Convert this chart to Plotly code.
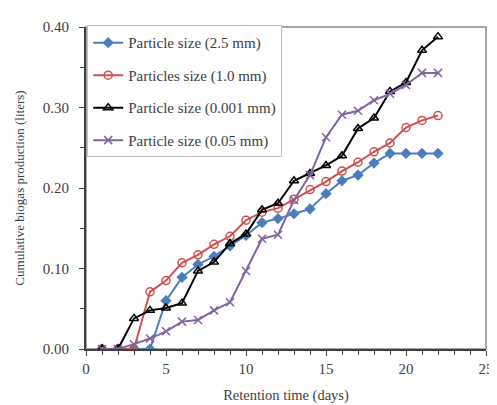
import plotly.graph_objects as go

days = list(range(1, 23))
size_2_5 = [0, 0, 0, 0, 0.060, 0.089, 0.105, 0.115, 0.128, 0.141, 0.157, 0.162, 0.168, 0.174,
            0.193, 0.209, 0.216, 0.231, 0.243, 0.243, 0.243, 0.243]
size_1_0 = [0, 0, 0, 0.071, 0.085, 0.107, 0.117, 0.130, 0.140, 0.160, 0.170, 0.175, 0.186, 0.198,
            0.208, 0.221, 0.232, 0.245, 0.256, 0.275, 0.284, 0.290]
size_0_001 = [0, 0, 0.038, 0.048, 0.051, 0.057, 0.097, 0.108, 0.131, 0.143, 0.173, 0.181, 0.209, 0.218,
              0.228, 0.240, 0.274, 0.287, 0.320, 0.331, 0.371, 0.388]
size_0_05 = [0, 0, 0.006, 0.013, 0.022, 0.034, 0.036, 0.048, 0.058, 0.097, 0.137, 0.142, 0.185, 0.216,
             0.263, 0.291, 0.296, 0.309, 0.317, 0.328, 0.343, 0.343]

names = ["Particle size (2.5 mm)", "Particles size (1.0 mm)",
         "Particle size (0.001 mm)", "Particle size (0.05 mm)"]
colors = ["#4A7EBB", "#D0504D", "#000000", "#8064A2"]
symbols = ["diamond", "circle-open", "triangle-up-open", "x-thin"]
sizes = [7, 8, 8, 8]
series = [size_2_5, size_1_0, size_0_001, size_0_05]

fig = go.Figure()
for i, (nm, col, sym, sz, ys) in enumerate(zip(names, colors, symbols, sizes, series)):
    fig.add_trace(go.Scatter(
        x=days, y=ys, mode="lines+markers", name=nm, legendgroup=f"g{i}",
        line=dict(color=col, width=2),
        marker=dict(symbol=sym, size=sz, color=col, line=dict(color=col, width=1.5)),
    ))

font_family = "Liberation Serif, Times New Roman, serif"
fig.update_layout(
    width=497, height=405,
    margin=dict(l=78, r=11, t=15, b=64),
    paper_bgcolor="white", plot_bgcolor="white",
    font=dict(family=font_family, size=14, color="#404040"),
    showlegend=True,
    legend=dict(
        x=0.003, y=1.005, xanchor="left", yanchor="top",
        bgcolor="white", bordercolor="#BFBFBF", borderwidth=1,
        font=dict(family=font_family, size=15, color="#404040"),
        traceorder="grouped", tracegroupgap=10,
    ),
    shapes=[dict(type="rect", xref="paper", yref="paper", x0=0, y0=0, x1=1, y1=1,
                 line=dict(color="#A6A6A6", width=2), layer="below")],
)
fig.update_xaxes(
    range=[0, 25], tickmode="linear", tick0=0, dtick=5,
    showgrid=False, zeroline=False, showline=True, linecolor="#404040", linewidth=2,
    ticks="outside", ticklen=5, tickcolor="#404040", tickwidth=1,
    minor=dict(dtick=1, ticks="outside", ticklen=4, tickcolor="#404040", showgrid=False),
    title=dict(text="Retention time (days)", font=dict(size=14.5, color="#404040"), standoff=14),
    tickfont=dict(size=15, color="#404040"),
)
fig.update_yaxes(
    range=[0, 0.40], tickmode="linear", tick0=0, dtick=0.1, tickformat=".2f",
    showgrid=False, zeroline=False, showline=True, linecolor="#404040", linewidth=2,
    ticks="outside", ticklen=5, tickcolor="#404040", tickwidth=1, ticklabelstandoff=7,
    minor=dict(dtick=0.05, ticks="outside", ticklen=4, tickcolor="#404040", showgrid=False),
    title=dict(text="Cumulative biogas production (liters)", font=dict(size=13, color="#404040"), standoff=15),
    tickfont=dict(size=15, color="#404040"),
)

fig.write_html("out.html")
